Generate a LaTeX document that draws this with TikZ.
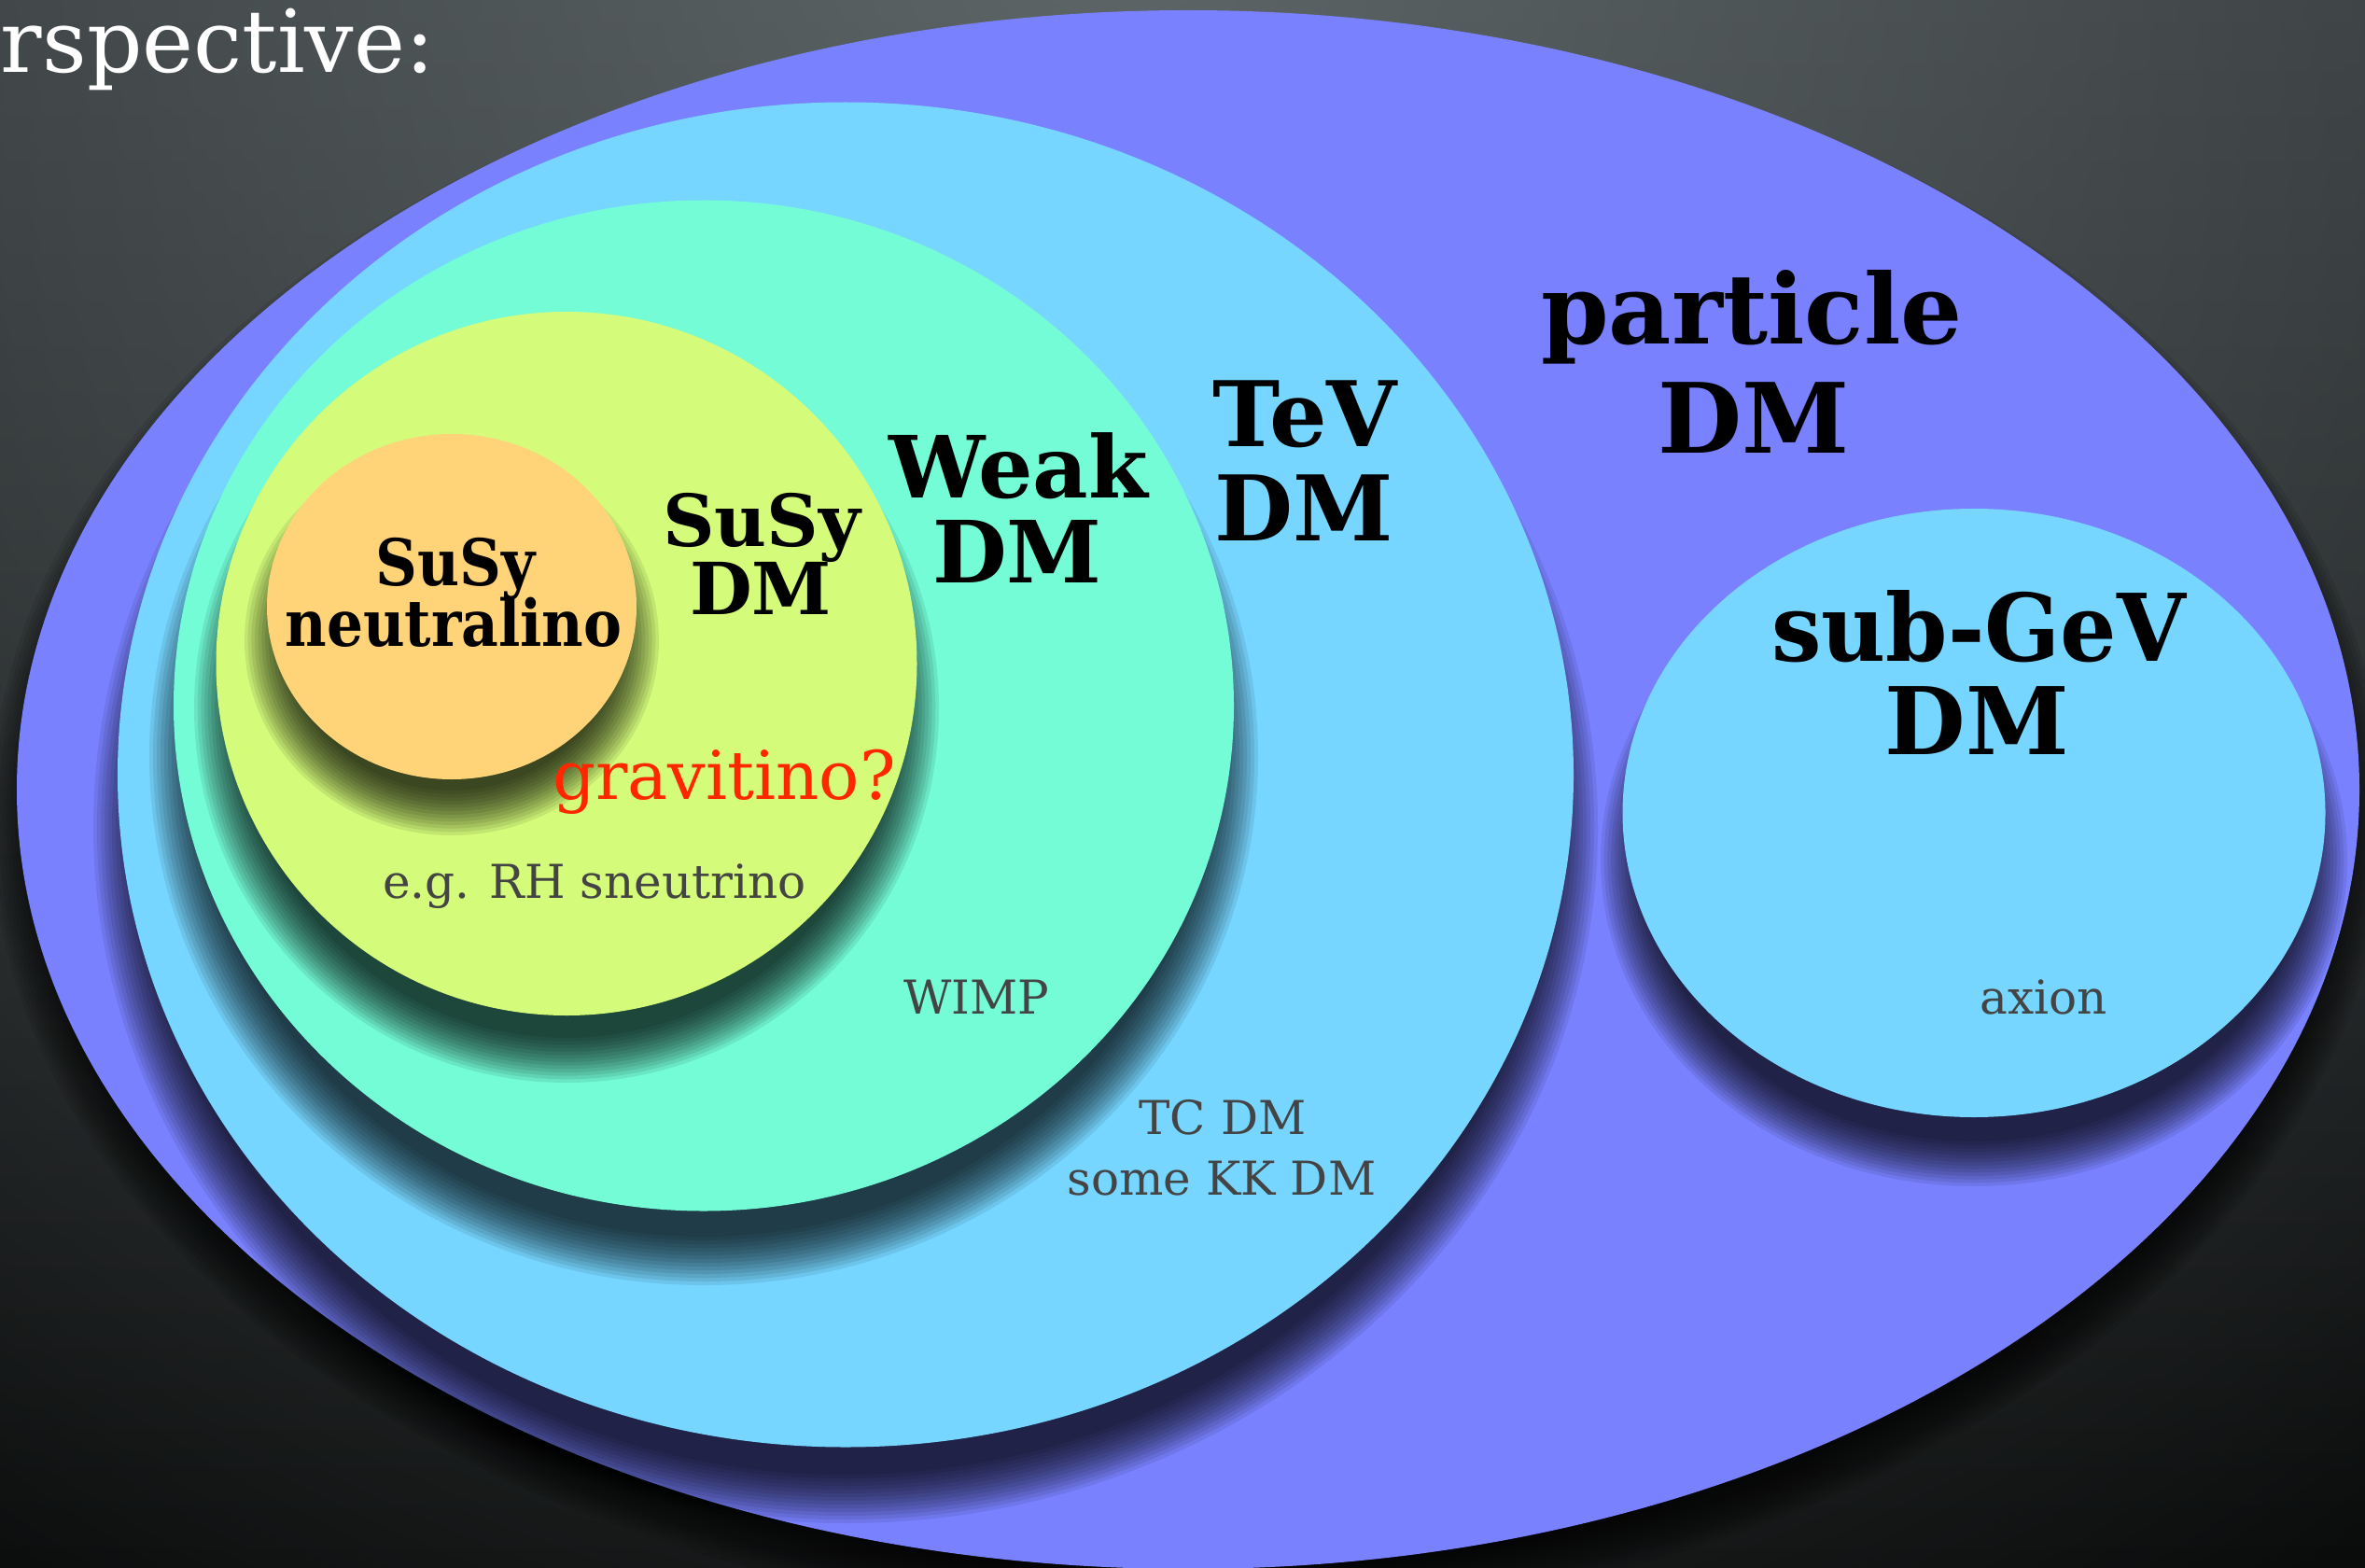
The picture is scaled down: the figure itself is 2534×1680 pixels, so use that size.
\documentclass[tikz,border=0pt]{standalone}
\usepackage{fontspec}
\newfontfamily\labfont{DejaVu Serif}
\usetikzlibrary{shapes.geometric,fadings}
\definecolor{orchid}{HTML}{7A81FF}
\definecolor{sky}{HTML}{76D6FF}
\definecolor{spindrift}{HTML}{73FCD6}
\definecolor{honeydew}{HTML}{D4FB79}
\definecolor{cantaloupe}{HTML}{FFD479}
\definecolor{maraschino}{HTML}{FF2600}
\definecolor{txtgray}{HTML}{444444}
\definecolor{bgtop}{RGB}{44,48,50}
\definecolor{bgbot}{RGB}{10,11,11}
\definecolor{glowc}{RGB}{115,125,127}
\tikzfading[name=glowfade, inner color=transparent!30, outer color=transparent!100]
% soft shadow: centre x, centre y, x radius, y radius, downward shift, blur
\newcommand\softshadow[6]{%
  \foreach \k in {0,...,13}{%
    \fill[black, opacity=0.083] (#1,#2+#5) ellipse [x radius={#3+#6-2*#6*\k/13}, y radius={#4+#6-2*#6*\k/13}];
  }}
\begin{document}
\begin{tikzpicture}[x=1pt,y=-1pt,
  region/.style={ellipse, inner sep=0pt, outer sep=0pt, draw=none},
  lbl/.style={font=\labfont\bfseries\fontsize{#1}{#1}\selectfont, text=black, inner sep=0pt, anchor=base},
  note/.style={font=\labfont\fontsize{50}{50}\selectfont, text=txtgray, inner sep=0pt, anchor=base},
]
\useasboundingbox (0,0) rectangle (2534,1680);
\begin{scope}
\clip (0,0) rectangle (2534,1680);
\shade[top color=bgtop, bottom color=bgbot] (0,0) rectangle (2534,1680);
\fill[glowc, path fading=glowfade] (1200,-100) circle (2200);

% regions with their shadows
\softshadow{1273}{846}{1255}{835}{30}{28}
\node[region, fill=orchid, minimum width=2510pt, minimum height=1670pt] (particle) at (1273,846) {};
\softshadow{906}{830}{780}{720}{56}{26}
\node[region, fill=sky, minimum width=1560pt, minimum height=1441pt] (tev) at (906,830) {};
\softshadow{2115}{871}{376}{326}{50}{24}
\node[region, fill=sky, minimum width=753pt, minimum height=652pt] (subgev) at (2115,871) {};
\softshadow{754}{756}{568}{541}{54}{26}
\node[region, fill=spindrift, minimum width=1136pt, minimum height=1083pt] (weak) at (754,756) {};
\softshadow{607}{711}{375}{377}{48}{24}
\node[region, fill=honeydew, minimum width=751pt, minimum height=754pt] (susy) at (607,711) {};
\softshadow{484}{650}{198}{185}{36}{24}
\node[region, fill=cantaloupe, minimum width=396pt, minimum height=370pt] (neutralino) at (484,650) {};
\end{scope}

% title fragment
\node[font=\labfont\fontsize{93}{93}\selectfont, text=white, inner sep=0pt, anchor=base east] (title) at (466,78) {rspective:};

% bold labels
\node[lbl=104] (particleA) at (1877,368) {particle};
\node[lbl=104] (particleB) at (1879,485) {DM};
\node[lbl=97] (tevA) at (1398,478) {TeV};
\node[lbl=97] (tevB) at (1397,579) {DM};
\node[lbl=92] (weakA) at (1091,533) {Weak};
\node[lbl=92] (weakB) at (1090,624) {DM};
\node[lbl=77] (susyA) at (816,585) {SuSy};
\node[lbl=77] (susyB) at (815,658) {DM};
\node[lbl=69] (neutA) at (488,627) {\scalebox{0.9}[1]{SuSy}};
\node[lbl=69] (neutB) at (486,692) {\scalebox{0.89}[1]{neutralino}};
\node[lbl=100] (subA) at (2120,708) {\scalebox{0.95}[1]{sub-GeV}};
\node[lbl=100] (subB) at (2118,808) {DM};

% small labels
\node[font=\labfont\fontsize{72}{72}\selectfont, text=maraschino, inner sep=0pt, anchor=base] (grav) at (776,856) {gravitino?};
\node[note] (sneu) at (637,962) {e.g. RH sneutrino};
\node[note] (wimp) at (1046,1086) {WIMP};
\node[note] (tcA) at (1310,1215) {TC DM};
\node[note] (tcB) at (1309,1280) {some KK DM};
\node[note] (axion) at (2190,1086) {axion};
\end{tikzpicture}
\end{document}
